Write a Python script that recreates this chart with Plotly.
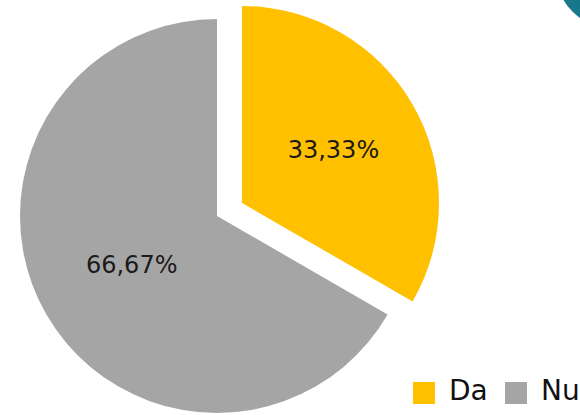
import plotly.graph_objects as go

# Data
labels = ["Da", "Nu"]
values = [33.33, 66.67]
colors = ["#FFC000", "#A5A5A5"]

W, H = 580, 415


def px_dom(cx, cy, r):
    return dict(x=[(cx - r) / W, (cx + r) / W],
                y=[1 - (cy + r) / H, 1 - (cy - r) / H])


TRANSP = "rgba(0,0,0,0)"
TXT = "%{percent:.2%}"
fig = go.Figure()

# Base pie: "Nu" slice visible (Da hidden)
fig.add_trace(go.Pie(
    labels=labels, values=values, sort=False, direction="clockwise", rotation=0,
    marker=dict(colors=[TRANSP, colors[1]], line=dict(width=0)),
    texttemplate=["", TXT], textposition="inside",
    insidetextorientation="horizontal",
    textfont=dict(family="DejaVu Sans", size=24, color="#1a1a1a"),
    domain=px_dom(217, 216, 197), showlegend=False, hoverinfo="label+percent",
))
# Exploded pie: "Da" slice visible (Nu hidden)
fig.add_trace(go.Pie(
    labels=labels, values=values, sort=False, direction="clockwise", rotation=0,
    marker=dict(colors=[colors[0], TRANSP], line=dict(width=0)),
    texttemplate=[TXT, ""], textposition="inside",
    insidetextorientation="horizontal",
    textfont=dict(family="DejaVu Sans", size=24, color="#1a1a1a"),
    domain=px_dom(242, 203, 197), showlegend=False, hoverinfo="label+percent",
))

shapes = []
annotations = []
# Legend built from labels/colors
leg_x = [413, 505]
for lab, col, lx in zip(labels, colors, leg_x):
    shapes.append(dict(type="rect", xref="paper", yref="paper",
                       x0=lx / W, x1=(lx + 22) / W,
                       y0=1 - 404 / H, y1=1 - 382 / H,
                       fillcolor=col, line=dict(width=0)))
    annotations.append(dict(text=lab, xref="paper", yref="paper",
                            x=(lx + 34) / W, y=1 - 390 / H,
                            xanchor="left", yanchor="middle", showarrow=False,
                            font=dict(family="DejaVu Sans", size=28, color="#111111")))

# Decorative teal circle in the top-right corner
shapes.append(dict(type="circle", xref="paper", yref="paper",
                   x0=(612 - 56) / W, x1=(612 + 56) / W,
                   y0=1 - (-28 + 56) / H, y1=1 - (-28 - 56) / H,
                   fillcolor="#17788c", line=dict(width=0)))

fig.update_layout(
    width=W, height=H,
    margin=dict(l=0, r=0, t=0, b=0, autoexpand=False),
    paper_bgcolor="white", plot_bgcolor="white",
    separators=", ",
    showlegend=False,
    shapes=shapes, annotations=annotations,
)

fig.write_html("out.html")
